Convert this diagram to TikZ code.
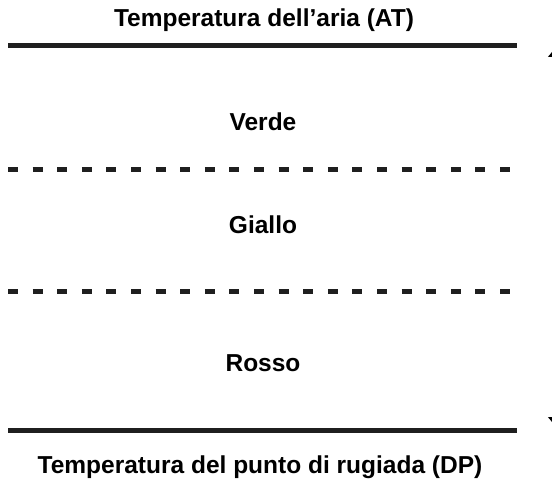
\documentclass[tikz,border=0pt]{standalone}
\usepackage{fontspec}
\setmainfont{Liberation Sans}
\usetikzlibrary{arrows.meta}

\begin{document}
\begin{tikzpicture}[
  x=1pt,y=-1pt,
  lbl/.style={font=\fontsize{24.5}{28}\selectfont\bfseries,inner sep=0pt,anchor=base},
  bound/.style={line width=5pt,black!88},
  split/.style={line width=5pt,black!88,dash pattern=on 10pt off 14.6pt},
  spanarr/.style={{Triangle[length=8pt,width=13pt]}-{Triangle[length=8pt,width=13pt]},line width=1pt}
]
\useasboundingbox (0,0) rectangle (552,484);
\clip (0,0) rectangle (552,484);

% labels
\node[lbl] (at) at (264,27) {Temperatura dell’aria (AT)};
\node[lbl] (verde) at (263,130.5) {Verde};
\node[lbl] (giallo) at (263,233.5) {Giallo};
\node[lbl] (rosso) at (263,371.5) {Rosso};
\node[lbl] (dp) at (260,473) {Temperatura del punto di rugiada (DP)};

% boundary lines
\coordinate (atL) at (8,45.5);   \coordinate (atR) at (517,45.5);
\coordinate (s1L) at (8,169.5);  \coordinate (s1R) at (510,169.5);
\coordinate (s2L) at (8,291.5);  \coordinate (s2R) at (510,291.5);
\coordinate (dpL) at (8,430);    \coordinate (dpR) at (517,430);

\draw[bound] (atL) -- (atR);
\draw[split] (s1L) -- (s1R);
\draw[split] (s2L) -- (s2R);
\draw[bound] (dpL) -- (dpR);

% range arrow
\coordinate (top) at (554.5,49);
\coordinate (bot) at (554.5,425);
\draw[spanarr] (top) -- (bot);

\end{tikzpicture}
\end{document}
